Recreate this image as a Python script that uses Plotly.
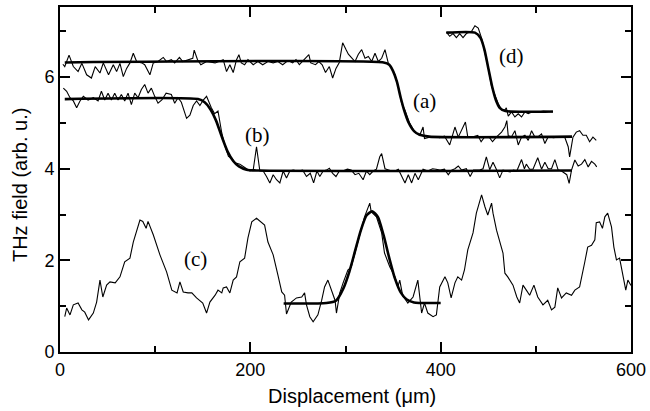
import plotly.graph_objects as go

# ---- data ----
a_x = [3,5,9.5,14,19,23,28,33,37,42,45.5,51,56,59.5,63,66.5,70,73.5,77,80.5,86,89,94.5,98,103,108.5,112,117,120.5,125.5,129,134.5,139.5,141,144.5,148,154,163,171.5,175,178.5,182,185.5,188,190.5,194,197.5,203,208,213,218.5,224,229,234,239.5,244.5,248,251.5,256.5,261.5,263.5,268.5,272,275.5,279,283,286.5,290,293.5,297,300.5,303,306.5,310,313.5,317,320.5,324,327.5,331,334.5,338,341.5,345,348.5,352,355.5,359,362.5,367.5,373,378,381.5,383,388.5,393.5,399,404,409.5,413,415,418.5,422,426,428.5,434,439,442.5,446,451,454.5,458.5,464,467.5,469.5,471,474.5,478,481.5,485,488.5,492,495.5,499,502.5,506,509.5,513,518.5,525.5,530.5,534,535.5,539,542.5,546,549.5,553,556.5,560,563.5]
a_y = [6.28,6.23,6.48,6.23,6.12,6.3,6.05,5.98,6.23,6.09,6.31,6.05,6.27,6.12,6.3,6.01,6.19,6.31,6.52,6.34,6.31,6.27,6.05,6.31,6.34,6.43,6.34,6.38,6.31,6.43,6.34,6.38,6.41,6.59,6.38,6.27,6.34,6.31,6.38,6.12,6.27,6.1,6.38,6.49,6.31,6.27,6.38,6.27,6.34,6.27,6.34,6.31,6.34,6.27,6.36,6.31,6.38,6.27,6.38,6.49,6.31,6.27,6.34,6.27,6.1,6.23,5.98,6.19,6.32,6.75,6.6,6.5,6.42,6.34,6.5,6.6,6.41,6.45,6.34,6.52,6.34,6.41,6.6,6.3,6.2,6.05,5.79,5.43,5.28,4.99,4.8,4.73,4.91,4.66,4.69,4.7,4.68,4.71,4.52,4.76,4.91,4.69,4.83,5.02,4.69,4.7,4.73,4.59,4.69,4.69,4.59,4.69,4.8,4.91,5.05,4.72,4.7,4.83,4.52,4.69,4.73,4.62,4.83,4.69,4.7,4.76,4.55,4.7,4.68,4.7,4.68,4.48,4.26,4.69,4.8,4.83,4.73,4.73,4.59,4.69,4.62]

b_x = [3.5,7,10.5,14,17.5,21,24.5,29.5,35,40,43.5,47,50.5,54,57.5,61,64.5,68,71.5,75,78.5,82,85.5,89,92.5,96,99.5,103,107,111.5,117,120.5,124,127.5,133,136.5,140,143.5,147,150.5,154,159,162.5,166,170,173.5,177,180.5,184,189,194.5,199.5,203,206.5,210,213.5,217,220.5,224,227.5,231,234.5,238,241.5,245,250,255,259,263,266.5,270,273,276.5,280,283,286.5,290,293.5,297,302,306,310,314,318.5,322,325.5,329,332.5,336,338,341.5,345,348.5,352,355.5,362.5,366,369.5,373,376.5,381.5,386.5,391.5,395,399.5,404,408,411.5,415,418.5,422,427,431,434.5,438,441,444.5,448,451.5,455,458.5,462,465.5,469.5,473,476.5,480,485,488,490,493.5,497,502,506,509.5,513,516.5,520,523.5,527,532.5,535,537.5,541,544.5,548,551.5,555,558.5,562,564]
b_y = [5.76,5.69,5.55,5.48,5.33,5.48,5.58,5.5,5.55,5.48,5.69,5.5,5.65,5.5,5.65,5.5,5.62,5.48,5.65,5.4,5.65,5.55,5.73,5.84,5.65,5.76,5.58,5.43,5.5,5.65,5.62,5.43,5.55,5.45,5.1,5.17,5.38,5.48,5.38,5.5,5.58,5.33,5.2,5.26,4.78,4.49,4.27,4.23,4.13,4.1,4.02,3.95,3.97,4.48,3.95,3.95,3.83,3.69,3.87,3.76,3.69,3.95,3.8,3.95,3.97,3.95,3.97,3.83,3.9,3.69,3.95,3.83,3.95,3.97,4.01,3.9,3.83,3.95,3.95,3.99,3.97,3.87,3.9,3.76,3.95,3.87,3.95,3.99,4.26,4.33,4.0,3.97,3.95,3.95,3.99,3.69,3.87,3.69,3.9,3.76,3.99,3.95,4.0,3.99,3.97,3.99,3.87,3.97,4.0,4.06,3.97,4.0,3.83,3.97,3.97,3.97,4.0,4.26,3.98,4.14,3.99,3.8,3.97,3.95,3.93,3.97,3.95,4.2,4.0,4.1,3.99,3.99,4.24,3.99,4.14,4.0,4.0,4.2,3.97,3.95,3.87,3.68,3.97,4.19,4.06,4.1,4.2,4.04,4.16,4.1,4.04]

c_x = [5,7,10.5,14,19,23,26,30,35,38.5,42,45,49,52.5,58,63,68,73.5,77,80.5,84,87,90.5,92.5,98,105,112,117.5,123,126,129.5,134.5,138.5,143.5,150,154,157.5,163,166,170,171.5,175,178.5,182,185.5,189,194,197.5,201.5,206.5,212,215,218.5,224,229,233,236,238,243,248.5,254,257,259,262.5,266,271,275,278,281.5,285,289,290.5,294,297.5,302.5,306,310,315,320,325.5,327,332.5,338,341,346.5,352,355,357,360,365.5,371,376,380,383,386.5,392,395.5,399,404.5,407.5,411,415,418,422,425,428.5,434,437.5,443,446.5,449.5,453.5,455,458.7,462,465.5,467.5,470.5,476,480,483,486.5,490,493.5,498,502,507.5,512.5,516.5,520,523,527,532,537.5,541,546,551.5,554.5,558.5,562,563.5,567,570,572.5,575.5,579.5,582,584.7,588,591.5,594.5,596.7,600]
c_y = [0.77,0.96,0.81,1.03,1.07,0.92,0.87,0.70,0.85,1.09,1.57,1.20,1.46,1.53,1.51,1.64,1.97,2.05,2.40,2.62,2.88,2.85,2.70,2.85,2.56,2.12,1.75,1.35,1.29,1.53,1.31,1.29,1.29,1.18,1.07,0.85,1.09,1.24,1.35,1.29,1.40,1.42,1.29,1.57,1.64,1.97,2.05,2.49,2.84,2.92,2.82,2.77,2.40,2.12,1.68,1.31,1.24,0.83,1.09,1.18,1.20,1.29,1.03,0.77,0.66,0.81,1.13,1.42,1.57,1.35,1.13,0.85,1.29,1.51,1.79,1.85,2.16,2.60,2.95,3.25,3.06,2.95,2.60,2.16,1.86,1.64,1.42,1.57,1.24,1.07,1.20,1.57,0.85,1.07,0.85,0.77,0.81,1.42,1.64,1.51,1.18,1.51,1.64,1.57,1.79,2.23,2.60,3.03,3.43,3.17,2.99,3.25,3.03,2.66,2.40,2.16,1.72,1.64,1.46,1.20,1.07,1.46,1.35,1.24,1.46,1.20,1.03,1.13,0.92,0.98,1.40,1.18,1.29,1.24,1.35,1.42,1.97,2.29,2.33,2.45,2.82,2.84,2.70,2.95,3.03,2.73,2.29,2.01,2.05,1.64,1.35,1.57,1.45]

d_x = [406,409.5,413,416.5,420,423.5,427,432.5,436,439.5,443,446.5,450,453.5,457,460.5,464,467.5,469,471,474.5,478,481.5,485,488.5,492,497,502.5,508,513,518]
d_y = [6.98,6.89,6.95,6.86,6.95,6.86,6.95,7.0,7.12,7.07,6.85,6.55,6.2,5.8,5.6,5.42,5.29,5.28,5.33,5.15,5.24,5.13,5.2,5.13,5.24,5.2,5.25,5.24,5.26,5.25,5.24]

# fitted curves
fa_x = [5,340,346,350,354,358,362,366,372,378,388,538]
fa_y = [6.32,6.32,6.27,6.13,5.9,5.55,5.25,5.02,4.82,4.74,4.70,4.70]
fb_x = [5,145,152,158,164,170,176,182,188,196,210,538]
fb_y = [5.52,5.52,5.45,5.3,5.05,4.7,4.38,4.17,4.05,3.98,3.96,3.96]
fc_x = [235,280,290,298,304,310,316,322,328,334,340,346,352,358,364,372,400]
fc_y = [1.06,1.07,1.12,1.4,1.75,2.2,2.65,2.98,3.07,2.95,2.55,2.05,1.6,1.3,1.15,1.08,1.07]
fd_x = [406,436,442,446,450,454,458,462,468,518]
fd_y = [6.97,6.97,6.85,6.6,6.2,5.8,5.5,5.33,5.26,5.25]

labels = ["(a)", "(b)", "(c)", "(d)"]
label_x = [383, 207, 142, 474]
label_y = [5.47, 4.73, 2.03, 6.46]

x_major = [0, 200, 400, 600]
y_major = [0, 2, 4, 6]

fig = go.Figure()
for xs, ys in [(a_x, a_y), (b_x, b_y), (c_x, c_y), (d_x, d_y)]:
    fig.add_trace(go.Scatter(x=xs, y=ys, mode="lines",
                             line=dict(color="black", width=1.1), showlegend=False))
for xs, ys in [(fa_x, fa_y), (fb_x, fb_y), (fc_x, fc_y), (fd_x, fd_y)]:
    fig.add_trace(go.Scatter(x=xs, y=ys, mode="lines",
                             line=dict(color="black", width=2.6, shape="spline", smoothing=0.6),
                             showlegend=False))

for t, lx, ly in zip(labels, label_x, label_y):
    fig.add_annotation(x=lx, y=ly, text=t, showarrow=False,
                       font=dict(family="Liberation Serif", size=21, color="black"))

fig.add_annotation(xref="paper", yref="paper", x=0.511, y=-0.128, text="Displacement (\u03bcm)",
                   showarrow=False, yanchor="middle",
                   font=dict(family="Liberation Sans", size=20, color="black"))
fig.add_annotation(xref="paper", yref="paper", x=-0.070, y=0.484, text="THz field (arb. u.)",
                   showarrow=False, textangle=-90, xanchor="center", yanchor="middle",
                   font=dict(family="Liberation Sans", size=20, color="black"))

axis_common = dict(showgrid=False, zeroline=False, showline=True, linecolor="black", linewidth=2,
                   mirror="allticks", ticks="inside", ticklen=10, tickwidth=1.5, tickcolor="black",
                   automargin=False,
                   tickfont=dict(family="Liberation Sans", size=18, color="black"))
fig.update_xaxes(range=[0, 600], tickvals=x_major, ticktext=[str(v) for v in x_major],
                 minor=dict(dtick=100, ticks="inside", ticklen=6, tickwidth=1.5, tickcolor="black"),
                 **axis_common)
fig.update_yaxes(range=[0, 7.53], tickvals=y_major, ticktext=[str(v) for v in y_major],
                 minor=dict(dtick=1, ticks="inside", ticklen=6, tickwidth=1.5, tickcolor="black"),
                 **axis_common)
fig.update_layout(width=650, height=411, margin=dict(l=60, r=19, t=7, b=59, autoexpand=False),
                  paper_bgcolor="white", plot_bgcolor="white")
fig.write_html("out.html", config={"displayModeBar": False},
               post_script="document.body.style.margin='0px';document.body.style.overflow='hidden';")
